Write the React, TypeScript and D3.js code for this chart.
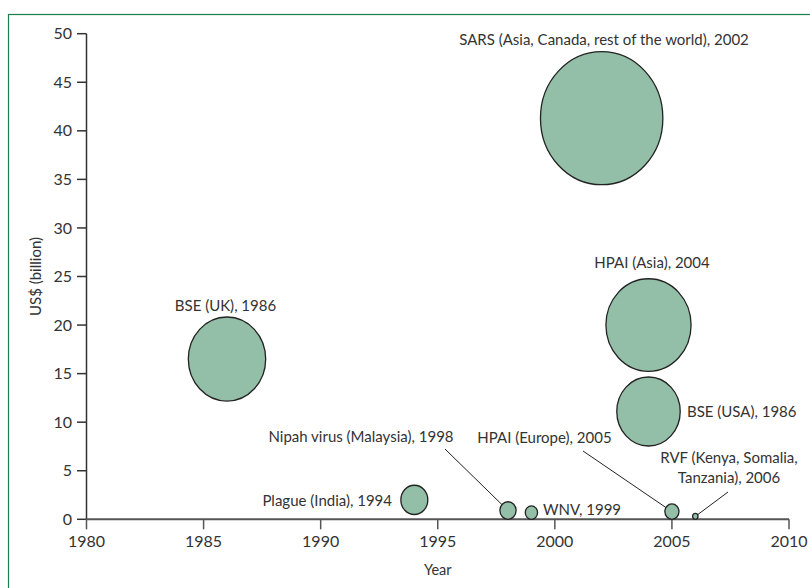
import React from "react";
import * as d3 from "d3";

const outbreaks = [
  "BSE (UK), 1986",
  "Plague (India), 1994",
  "Nipah virus (Malaysia), 1998",
  "WNV, 1999",
  "SARS (Asia, Canada, rest of the world), 2002",
  "HPAI (Asia), 2004",
  "BSE (USA), 1986",
  "HPAI (Europe), 2005",
  "RVF (Kenya, Somalia, Tanzania), 2006",
];
const years = [1986, 1994, 1998, 1999, 2002, 2004, 2004, 2005, 2006];
const costs = [16.5, 2.0, 0.72, 0.42, 41.3, 20.0, 11.1, 0.55, 0.08];

const xTicks = [1980, 1985, 1990, 1995, 2000, 2005, 2010];
const yTicks = [0, 5, 10, 15, 20, 25, 30, 35, 40, 45, 50];

// label layout (positions in px)
type Lab = { lines: string[]; x: number; y: number; anchor: string; leader?: [number, number] };
const labelLayout: Lab[] = [
  { lines: ["BSE (UK), 1986"], x: 225.5, y: 311, anchor: "middle" },
  { lines: ["Plague (India), 1994"], x: 392, y: 506, anchor: "end" },
  { lines: ["Nipah virus (Malaysia), 1998"], x: 361, y: 442, anchor: "middle", leader: [445, 449] },
  { lines: ["WNV, 1999"], x: 543, y: 515, anchor: "start" },
  { lines: ["SARS (Asia, Canada, rest of the world), 2002"], x: 604, y: 45, anchor: "middle" },
  { lines: ["HPAI (Asia), 2004"], x: 652, y: 268, anchor: "middle" },
  { lines: ["BSE (USA), 1986"], x: 687, y: 416.5, anchor: "start" },
  { lines: ["HPAI (Europe), 2005"], x: 544.5, y: 443, anchor: "middle", leader: [583, 451] },
  { lines: ["RVF (Kenya, Somalia,", "Tanzania), 2006"], x: 729, y: 463, anchor: "middle", leader: [728, 492] },
];

const W = 810;
const H = 588;
const FONT = "Lato, 'Open Sans', sans-serif";
const TEXT = "#333";

export default function App() {
  const x = d3.scaleLinear().domain([1980, 2010]).range([86.5, 789]);
  const y = d3.scaleLinear().domain([0, 50]).range([519.3, 33.7]);
  const r = d3.scaleSqrt().domain([0, 50]).range([0, 10.35 * Math.sqrt(50)]);
  const aspect = 0.92;

  const pts = outbreaks.map((name, i) => {
    const ry = r(costs[i]);
    const cy = Math.min(y(costs[i]), y(0) - ry);
    return { name, cx: x(years[i]), cy, ry, rx: ry * aspect };
  });

  return (
    <svg width={W} height={H} style={{ position: "absolute", left: 0, top: 0, display: "block" }}>
      <rect x={8.5} y={14.5} width={W + 20} height={H + 20} fill="white" stroke="#1a7d4c" strokeWidth={1.2} />
      {/* y axis */}
      <line x1={86.5} x2={86.5} y1={y(50)} y2={y(0)} stroke="#333" strokeWidth={1.5} />
      {yTicks.map((t) => (
        <g key={"y" + t}>
          <line x1={77} x2={86.5} y1={y(t)} y2={y(t)} stroke="#333" strokeWidth={1.5} />
          <text x={72} y={y(t)} dy="0.35em" textAnchor="end" fontFamily={FONT} fontSize={16} fill={TEXT}>
            {t}
          </text>
        </g>
      ))}
      {/* x axis */}
      <line x1={x(1980)} x2={x(2010)} y1={y(0)} y2={y(0)} stroke="#555" strokeWidth={2} />
      {xTicks.map((t) => (
        <g key={"x" + t}>
          <line x1={x(t)} x2={x(t)} y1={y(0)} y2={y(0) + 10} stroke="#555" strokeWidth={1.5} />
          <text x={x(t)} y={546.5} textAnchor="middle" fontFamily={FONT} fontSize={16} fill={TEXT}>
            {t}
          </text>
        </g>
      ))}
      <text x={(x(1980) + x(2010)) / 2} y={575} textAnchor="middle" fontFamily={FONT} fontSize={14.5} fill={TEXT}>
        Year
      </text>
      <text
        transform={`translate(41,${(y(0) + y(50)) / 2}) rotate(-90)`}
        textAnchor="middle"
        fontFamily={FONT}
        fontSize={15}
        fill={TEXT}
      >
        US$ (billion)
      </text>
      {/* leaders */}
      {labelLayout.map((l, i) =>
        l.leader ? (
          <line key={"l" + i} x1={l.leader[0]} y1={l.leader[1]} x2={pts[i].cx} y2={pts[i].cy} stroke="#222" strokeWidth={1} />
        ) : null
      )}
      {/* bubbles */}
      {pts.map((p, i) => (
        <ellipse key={"b" + i} cx={p.cx} cy={p.cy} rx={p.rx} ry={p.ry} fill="#93bea7" stroke="#222" strokeWidth={1.3} />
      ))}
      {/* labels */}
      {labelLayout.map((l, i) => (
        <text key={"t" + i} x={l.x} y={l.y} textAnchor={l.anchor} fontFamily={FONT} fontSize={15} fill={TEXT}>
          {l.lines.map((s, j) => (
            <tspan key={j} x={l.x} dy={j === 0 ? 0 : 19.7}>
              {s}
            </tspan>
          ))}
        </text>
      ))}
    </svg>
  );
}
